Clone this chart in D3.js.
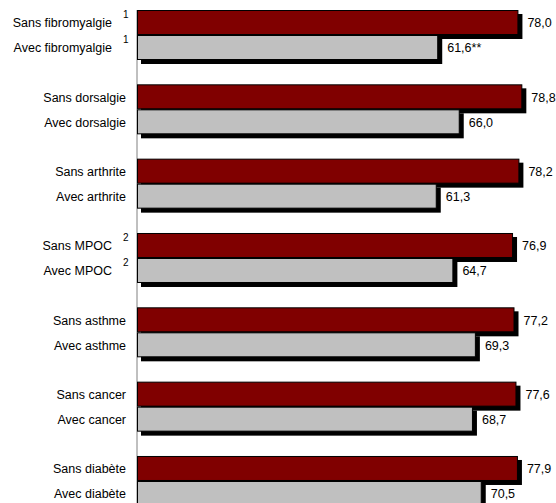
<!DOCTYPE html>
<html><head><meta charset="utf-8">
<script src="https://cdn.jsdelivr.net/npm/d3@7"></script>
<style>body{margin:0;background:#fff}svg{display:block}text{font-family:"Liberation Sans",Arial,sans-serif;fill:#000}</style>
</head><body><svg id="c" width="556" height="503"></svg>
<script>
const conditions = ["fibromyalgie","dorsalgie","arthrite","MPOC","asthme","cancer","diabète"];
const sansLabels = ["Sans fibromyalgie","Sans dorsalgie","Sans arthrite","Sans MPOC","Sans asthme","Sans cancer","Sans diabète"];
const avecLabels = ["Avec fibromyalgie","Avec dorsalgie","Avec arthrite","Avec MPOC","Avec asthme","Avec cancer","Avec diabète"];
const notes = ["1","","","2","","",""];
const sansValues = [78.0,78.8,78.2,76.9,77.2,77.6,77.9];
const avecValues = [61.6,66.0,61.3,64.7,69.3,68.7,70.5];
const sansText = ["78,0","78,8","78,2","76,9","77,2","77,6","77,9"];
const avecText = ["61,6**","66,0","61,3","64,7","69,3","68,7","70,5"];

const svg = d3.select("#c");
const x = d3.scaleLinear().domain([0,100]).range([137,626]);
const y = d3.scaleBand().domain(conditions).range([10, 10+74.33*7]).paddingInner(0).paddingOuter(0);
const barH = 25, sh = 4;

const rows = [];
conditions.forEach((c,i)=>{
  rows.push({c, k:"sans", v:sansValues[i], lab:sansLabels[i], t:sansText[i], note:notes[i], y:y(c), fill:"#800000"});
  rows.push({c, k:"avec", v:avecValues[i], lab:avecLabels[i], t:avecText[i], note:notes[i], y:y(c)+barH, fill:"#c0c0c0"});
});

// axis line
svg.append("line").attr("x1",x(0)).attr("x2",x(0)).attr("y1",10).attr("y2",503)
  .attr("stroke","#808080").attr("stroke-width",1);

const g = svg.append("g");
rows.forEach(r=>{
  g.append("rect").attr("x",x(0)+sh).attr("y",r.y+sh).attr("width",x(r.v)-x(0)).attr("height",barH).attr("fill","#000");
  g.append("rect").attr("x",x(0)+0.5).attr("y",r.y+0.5).attr("width",x(r.v)-x(0)-1).attr("height",barH-1)
    .attr("fill",r.fill).attr("stroke","#000").attr("stroke-width",1);
});

rows.forEach(r=>{
  const cy = r.y + barH/2 + 0.5;
  svg.append("text").attr("x", r.note ? 112 : 126).attr("y", cy).attr("dy","0.35em")
    .attr("text-anchor","end").attr("font-size",12.5).text(r.lab);
  if (r.note) svg.append("text").attr("x",123).attr("y",cy-5).attr("font-size",10).text(r.note);
  svg.append("text").attr("x", x(r.v)+9).attr("y", cy).attr("dy","0.35em").attr("font-size",12.5).text(r.t);
});
</script></body></html>
